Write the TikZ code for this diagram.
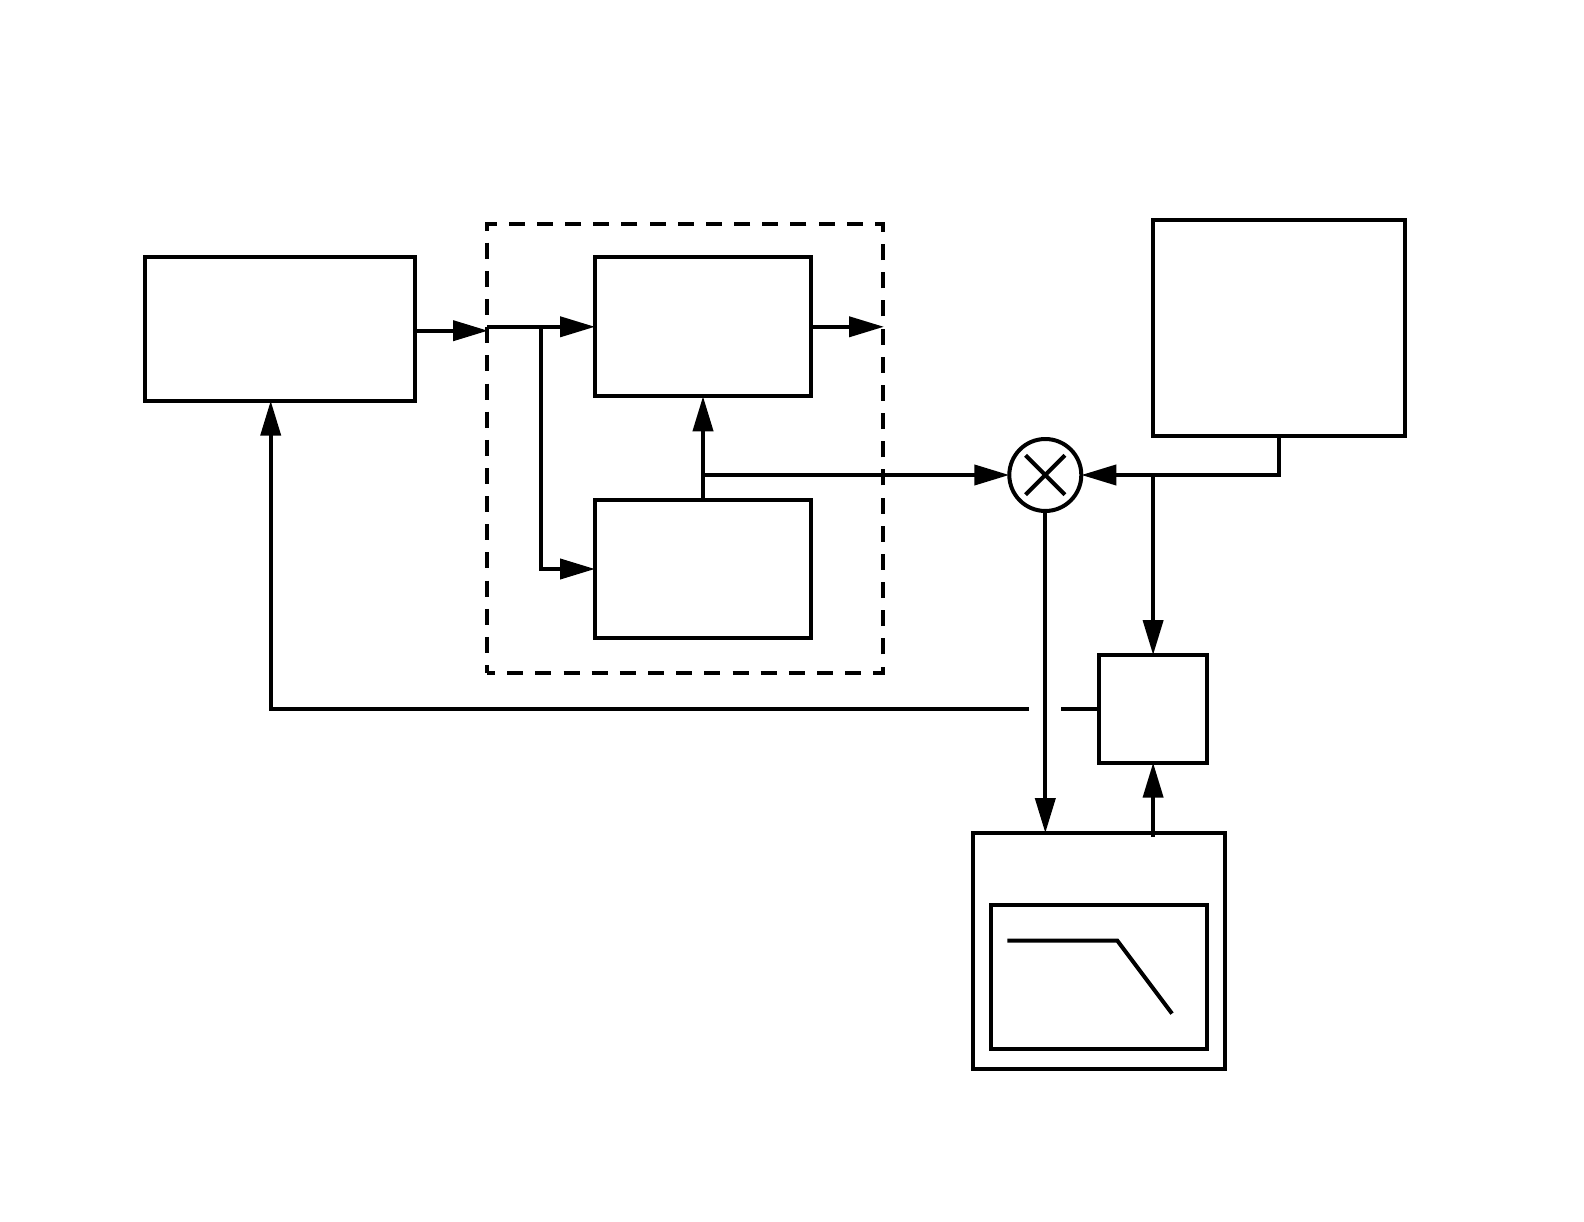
\documentclass[tikz,border=0pt]{standalone}
\usetikzlibrary{arrows.meta}

\begin{document}
\begin{tikzpicture}[
    x=0.02cm, y=-0.02cm,
    % Blocos comuns
    bloco/.style={
        draw, line width=0.08cm, rectangle, inner sep=0pt, outer sep=0pt
    },
    % Grupo tracejado
    grupo/.style={
        draw, line width=0.08cm, rectangle, inner sep=0pt, outer sep=0pt,
        dash pattern=on 0.32cm off 0.2434cm, dash phase=0.16cm
    },
    % Multiplicador
    mult/.style={
        draw, line width=0.08cm, circle, inner sep=0pt, outer sep=0pt,
        minimum size=1.44cm
    },
    linha/.style={draw, line width=0.08cm, -{Triangle[length=0.70cm,width=0.40cm]}},
    traco/.style={draw, line width=0.08cm}
]

\useasboundingbox (0, 0) rectangle (1584, 1222);

% ---- BLOCOS SUPERIORES ----
\node[bloco, minimum width=5.41cm, minimum height=2.874cm] (fonte) at (279.75, 328.9) {};
\node[grupo, minimum width=7.92cm, minimum height=8.98cm] (tracejado) at (685, 448.5) {};
\node[bloco, minimum width=4.32cm, minimum height=2.78cm] (bloco_a) at (703, 326.8) {};
\node[bloco, minimum width=4.32cm, minimum height=2.76cm] (bloco_b) at (703, 569) {};
\node[bloco, minimum width=5.04cm, minimum height=4.32cm] (ref) at (1279, 328) {};

% ---- MULTIPLICADOR ----
\node[mult] (vezes) at (1045.3, 475) {};
\draw[traco] (vezes.center) ++(-19.7, -19.7) -- ++(39.4, 39.4);
\draw[traco] (vezes.center) ++(-19.7, 19.7) -- ++(39.4, -39.4);

% ---- BLOCOS INFERIORES ----
\node[bloco, minimum width=2.166cm, minimum height=2.154cm] (ctrl) at (1153.1, 708.85) {};
\node[bloco, minimum width=5.04cm, minimum height=4.714cm] (filtro) at (1099, 950.85) {};
\node[bloco, minimum width=4.32cm, minimum height=2.88cm]  (filtro_in) at (1099, 977) {};

% Curva do filtro
\coordinate (curva_a) at (1007.3, 940.6);
\coordinate (curva_b) at (1117.3, 940.6);
\coordinate (curva_c) at (1172, 1013.6);
\draw[traco] (curva_a) -- (curva_b) -- (curva_c);

% ---- ENTRADA DO GRUPO ----
\coordinate (ent_grupo) at (488, 330.7);
\draw[linha] (fonte.east |- ent_grupo) -- (ent_grupo);

\coordinate (ini_a) at (487, 326.8);
\coordinate (bif_a) at (541, 326.8);
\draw[linha] (ini_a) -- (bloco_a.west);
\draw[linha] (bif_a) |- (bloco_b.west);

\coordinate (sai_grupo) at (884, 326.8);
\draw[linha] (bloco_a.east) -- (sai_grupo);

% ---- LIGAÇÕES DO MULTIPLICADOR ----
\draw[linha] (bloco_b.north) -- (bloco_a.south);

\coordinate (bif_b) at (703, 475);
\draw[linha] (bif_b) -- (vezes.west);
\draw[linha] (ref.south) |- (vezes.east);

\coordinate (bif_c) at (1153.1, 475);
\draw[linha] (bif_c) -- (ctrl.north);
\draw[linha] (vezes.south) -- (vezes.south |- filtro.north);

\coordinate (sai_filtro) at (1153.1, 837);
\draw[linha] (sai_filtro) -- (ctrl.south);

% ---- REALIMENTAÇÃO (com corte) ----
\coordinate (corte_d) at (1061, 708.85);
\coordinate (corte_e) at (1029, 708.85);
\coordinate (ret) at (270.7, 400.7);
\draw[traco] (ctrl.west) -- (corte_d);
\draw[linha] (corte_e) -| (ret);

\end{tikzpicture}
\end{document}
